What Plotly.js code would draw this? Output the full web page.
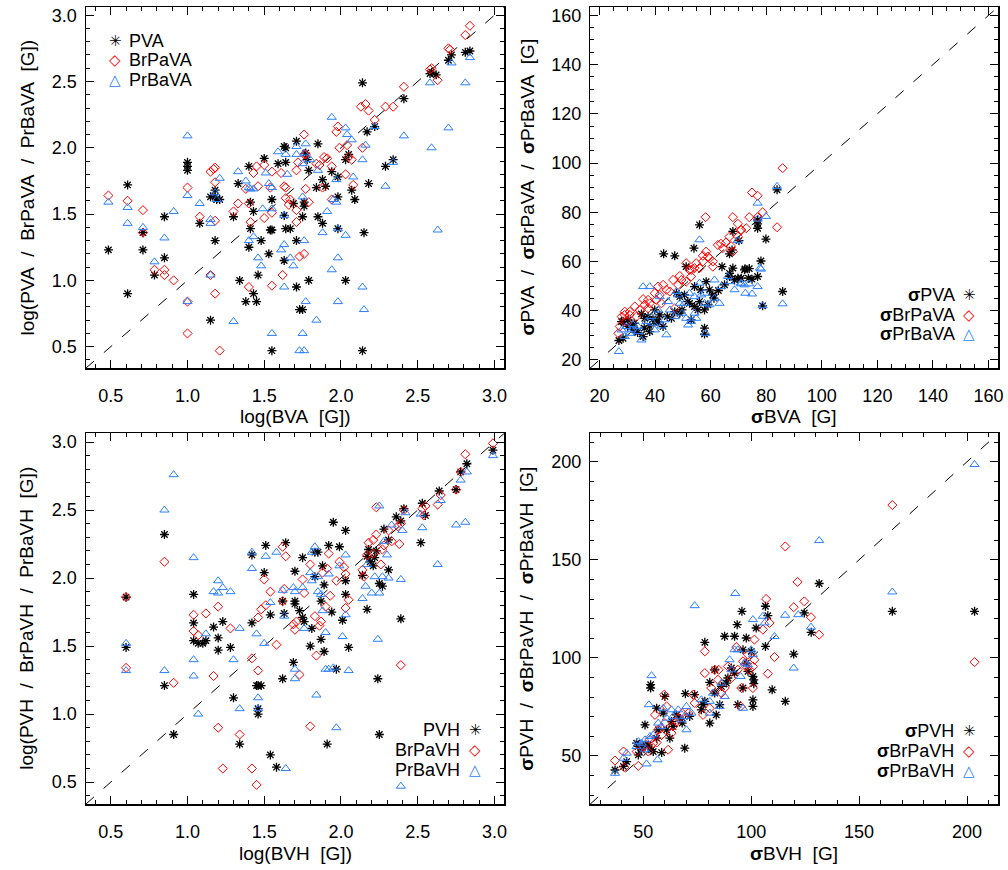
<!DOCTYPE html>
<html><head><meta charset="utf-8">
<script src="https://cdn.plot.ly/plotly-3.0.1.min.js"></script>
<style>html,body{margin:0;padding:0;background:#fff}#chart{width:1008px;height:870px}</style>
</head><body><div id="chart"></div>
<script>
// ---------------- DATA ----------------
// Panel 1: log(BVA) vs log(PVA / BrPaVA / PrBaVA)
const p1_PVA_x = [0.485,0.61,0.61,0.71,0.71,0.785,0.85,0.85,1.0,1.0,1.0,1.08,1.15,1.15,1.18,1.18,1.19,1.21,1.18,1.30,1.33,1.34,1.38,1.40,1.40,1.41,1.41,1.43,1.43,1.45,1.46,1.48,1.50,1.53,1.55,1.55,1.54,1.55,1.59,1.63,1.64,1.64,1.63,1.63,1.64,1.67,1.69,1.71,1.71,1.71,1.73,1.75,1.75,1.76,1.76,1.77,1.78,1.79,1.79,1.85,1.85,1.84,1.88,1.90,1.88,1.94,1.98,1.98,1.98,2.03,2.03,2.05,2.07,2.09,2.14,2.14,2.15,2.17,2.18,2.22,2.29,2.34,2.41,2.58,2.62,2.70,2.72,2.81,2.84,2.59];
const p1_PVA_y = [1.23,1.72,0.90,1.36,1.23,1.04,1.48,1.17,1.89,1.86,1.83,1.43,1.63,0.70,1.30,1.63,1.61,1.61,1.68,1.48,1.73,1.00,0.84,1.86,1.25,1.39,1.59,1.52,0.90,0.84,1.04,1.30,1.92,1.20,1.61,0.47,1.38,1.38,1.88,2.01,2.00,1.89,1.49,1.15,1.39,1.39,1.58,2.05,1.30,0.95,0.78,0.78,1.48,1.56,1.59,1.96,1.91,1.83,1.00,2.03,1.48,1.70,1.43,1.71,1.76,1.82,1.78,1.63,1.39,1.00,1.91,1.95,1.68,1.61,2.49,0.47,1.36,2.12,1.73,2.16,1.86,1.91,2.37,2.56,2.55,2.66,2.70,2.72,2.73,2.57];
const p1_BrPaVA_x = [0.485,0.61,0.71,0.71,0.785,0.85,0.85,0.91,1.0,1.0,1.0,1.08,1.15,1.17,1.18,1.18,1.18,1.15,1.18,1.21,1.30,1.33,1.38,1.40,1.41,1.43,1.45,1.46,1.50,1.50,1.54,1.55,1.55,1.40,1.55,1.61,1.62,1.63,1.64,1.64,1.66,1.67,1.71,1.71,1.73,1.76,1.71,1.76,1.77,1.77,1.79,1.76,1.72,1.84,1.86,1.89,1.91,1.88,1.94,1.94,1.97,1.98,1.99,2.04,2.03,2.05,2.07,2.08,2.13,2.16,2.18,2.14,2.22,2.29,2.34,2.41,2.58,2.63,2.70,2.71,2.81,2.84,2.59];
const p1_BrPaVA_y = [1.64,1.60,1.53,1.36,1.08,1.08,1.04,1.00,1.70,0.84,0.60,1.48,1.82,1.84,1.85,1.74,1.45,1.04,0.90,0.47,1.52,1.58,1.69,1.58,1.44,1.81,1.86,1.71,1.87,1.47,1.70,1.51,1.82,0.95,0.96,1.81,1.04,1.71,1.70,1.62,1.57,1.61,1.44,1.83,1.18,1.20,1.53,2.10,1.95,1.69,1.59,1.95,1.89,1.88,1.87,1.93,1.92,1.70,1.86,1.61,2.12,2.16,2.00,2.02,1.80,1.93,1.91,1.72,2.31,2.33,2.28,2.00,2.21,2.31,2.31,2.46,2.59,2.51,2.75,2.74,2.85,2.92,2.60];
const p1_PrBaVA_x = [0.485,0.61,0.61,0.71,0.85,0.785,0.91,1.0,1.0,1.0,1.08,1.15,1.15,1.15,1.18,1.21,1.19,1.30,1.33,1.38,1.40,1.41,1.43,1.40,1.43,1.46,1.48,1.49,1.51,1.53,1.55,1.55,1.55,1.59,1.61,1.63,1.63,1.63,1.64,1.65,1.67,1.69,1.71,1.71,1.73,1.76,1.75,1.76,1.75,1.75,1.77,1.77,1.80,1.84,1.85,1.88,1.91,1.94,1.94,1.97,1.97,1.98,1.98,1.98,2.03,2.04,2.07,2.03,2.08,2.14,2.14,2.15,2.16,2.22,2.29,2.34,2.41,2.58,2.59,2.63,2.70,2.72,2.81,2.84,1.76,1.95];
const p1_PrBaVA_y = [1.59,1.55,1.43,1.40,1.32,1.14,1.52,2.09,1.64,0.84,1.58,1.46,1.43,1.04,1.66,1.77,1.61,0.69,1.82,1.75,1.70,1.69,1.69,1.30,1.33,1.17,1.11,1.54,1.81,1.73,1.70,1.54,0.60,1.97,1.23,1.27,1.49,0.95,1.95,1.80,1.17,1.11,2.01,1.95,0.47,0.47,0.60,1.30,1.63,1.88,2.03,0.84,1.91,0.70,1.83,1.36,1.52,1.08,2.23,1.76,1.59,1.17,1.39,0.84,2.15,2.10,2.06,1.34,1.78,1.91,0.95,0.78,2.02,2.16,1.71,1.89,2.09,2.49,2.00,1.38,2.15,2.64,2.49,2.68,1.96,1.61];

// Panel 2: sigma BVA vs sigma PVA / BrPaVA / PrBaVA
const p2_PVA_x = [83.9,76.9,76.9,76.9,79.9,68.0,70.2,56.0,54.0,43.1,47.1,78.1,73.9,76.9,74.9,71.0,85.9,78.7,27.0,28.5,28.5,30.1,31.5,33.7,35.7,36.1,37.5,38.1,39.3,41.1,44.4,47.1,47.7,49.7,51.2,53.0,54.2,56.4,57.8,57.8,58.4,59.6,61.2,62.8,64.1,66.8,68.0,66.8,69.8,72.4,73.6,30.3,32.5,35.1,39.9,41.7,48.9,50.6,52.4,54.2,56.0,57.8,66.8,67.7,27.9,32.7,36.3,38.1,40.5,42.9,45.9,48.9,51.8,55.4,59.0,60.8,65.0,68.6,72.2];
const p2_PVA_y = [89.1,76.9,75.3,73.5,69.1,72.2,68.5,74.9,65.4,63.1,62.3,60.2,57.1,53.9,52.8,53.2,47.8,42.0,27.9,28.8,35.6,33.6,33.6,31.1,29.5,32.9,37.6,33.8,36.5,35.6,37.6,39.6,47.1,40.3,57.9,36.3,41.7,48.5,32.9,40.3,51.8,48.5,45.1,48.2,57.9,55.2,57.3,63.1,53.2,57.0,53.2,36.3,34.9,38.7,40.3,38.3,45.7,46.4,43.0,49.8,43.7,30.5,53.9,64.7,35.6,32.2,36.9,31.5,35.6,33.6,36.9,39.0,43.7,40.3,42.4,46.4,50.5,52.5,56.6];
const p2_BrPaVA_x = [85.9,74.9,76.9,78.7,76.9,83.9,68.0,69.8,71.0,73.9,58.2,26.8,28.0,29.1,30.9,33.3,35.7,36.3,38.1,39.9,40.5,41.1,42.9,45.3,46.5,47.1,48.9,51.2,51.2,52.4,54.2,56.0,57.2,58.4,59.6,60.8,62.6,63.7,65.5,67.3,66.8,68.0,70.9,29.1,30.9,34.5,37.5,42.3,48.3,53.0,60.8,57.2,27.3,29.7,32.7,37.5,41.7,44.1,49.5,53.0,54.8,59.0,64.4,69.8,72.8];
const p2_BrPaVA_y = [97.9,88.0,86.7,80.0,78.0,73.9,78.0,75.3,72.8,78.0,78.0,30.8,37.6,38.3,38.3,37.6,44.7,42.4,43.0,47.1,44.4,49.8,50.5,47.8,52.5,41.0,54.1,51.8,59.3,56.6,57.3,57.3,62.3,64.0,61.3,57.9,66.7,67.2,67.7,66.3,70.1,64.0,72.8,39.6,39.6,40.3,41.0,43.0,50.5,53.9,60.0,60.0,33.6,35.6,41.7,44.4,46.4,48.5,52.5,56.6,59.3,62.0,65.4,70.1,73.5];
const p2_PrBaVA_x = [83.9,76.9,79.9,56.0,78.1,76.9,74.9,73.9,71.0,85.9,78.7,27.0,28.0,29.7,32.1,35.1,35.7,38.1,36.9,39.3,39.9,41.7,44.1,43.5,45.3,47.1,47.7,49.7,51.2,53.0,52.4,54.2,54.8,56.0,56.6,57.8,59.6,61.4,63.2,63.8,66.8,69.8,70.9,72.5,77.8,76.9,48.9,30.9,33.9,42.3,58.2,51.9,29.1,31.5,33.9,38.7,41.1,44.7,48.3,50.6,54.2,57.8,61.4,66.2,68.6,72.2];
const p2_PrBaVA_y = [90.5,83.7,78.3,68.8,56.9,49.8,46.8,50.9,50.9,42.8,42.0,23.4,32.2,33.6,34.3,28.1,49.8,49.8,35.6,34.9,32.2,45.7,30.2,36.3,40.3,37.6,47.8,39.0,36.9,35.6,47.1,39.0,36.9,51.2,46.4,43.0,42.4,45.1,43.0,49.8,51.8,68.5,51.2,47.1,57.3,77.2,43.0,30.8,31.5,33.8,30.8,34.2,29.5,32.2,33.6,37.6,40.3,43.7,46.4,43.0,45.7,47.1,52.5,53.9,48.5,50.5];

// Panel 3: log(BVH) vs log(PVH / BrPaVH / PrBaVH)
const p3_PVH_x = [0.60,0.60,0.85,0.85,0.91,1.04,1.04,1.04,1.07,1.10,1.12,1.17,1.20,1.20,1.23,1.28,1.30,1.34,1.42,1.42,1.45,1.46,1.48,1.46,1.46,1.50,1.51,1.54,1.54,1.58,1.62,1.62,1.63,1.64,1.69,1.70,1.70,1.70,1.73,1.75,1.75,1.76,1.80,1.81,1.83,1.83,1.85,1.87,1.87,1.88,1.89,1.89,1.91,1.92,1.94,1.95,1.97,1.99,2.01,2.03,2.03,2.03,2.05,2.14,2.17,2.18,2.19,2.21,2.22,2.24,2.25,2.25,2.27,2.28,2.31,2.31,2.36,2.39,2.39,2.41,2.52,2.53,2.55,2.64,2.75,2.78,2.82,2.99,2.23,2.17];
const p3_PVH_y = [1.86,1.49,2.32,1.21,0.85,1.88,1.67,1.54,1.52,1.52,1.54,1.64,1.56,1.47,1.68,1.49,1.12,0.78,1.67,2.17,1.21,1.21,1.21,1.04,1.00,2.04,2.24,0.70,1.73,0.61,1.26,1.83,1.74,2.26,1.38,2.05,1.83,1.81,1.76,2.15,1.71,1.68,1.50,1.63,2.01,2.19,2.19,1.83,1.55,2.09,1.46,1.95,0.78,2.24,1.75,2.41,1.33,2.23,1.69,1.88,1.98,2.35,1.49,2.02,1.77,2.21,2.12,2.09,2.15,1.26,0.85,1.96,1.94,2.36,2.28,2.06,2.45,1.70,2.42,2.51,2.26,2.55,2.46,2.64,2.65,2.78,2.84,2.94,2.20,2.16];
const p3_BrPaVH_x = [0.60,0.60,0.85,0.91,1.04,1.04,1.07,1.12,1.17,1.20,1.20,1.23,1.28,1.34,1.42,1.42,1.45,1.46,1.46,1.48,1.50,1.51,1.54,1.58,1.62,1.64,1.63,1.62,1.69,1.70,1.71,1.73,1.75,1.76,1.80,1.80,1.83,1.84,1.86,1.87,1.88,1.90,1.91,1.92,1.93,1.97,1.99,2.02,2.03,2.03,2.05,2.14,2.15,2.17,2.18,2.21,2.23,2.23,2.26,2.27,2.28,2.31,2.33,2.37,2.38,2.39,2.41,2.39,2.53,2.55,2.63,2.65,2.75,2.78,2.81,2.99,2.21,2.54];
const p3_BrPaVH_y = [1.86,1.34,2.12,1.23,1.73,1.61,1.58,1.74,1.28,1.79,0.90,0.60,1.63,0.85,1.41,0.60,0.48,1.32,1.71,1.77,1.99,1.80,1.90,1.51,2.23,2.16,1.92,1.83,1.66,1.62,1.68,1.29,1.99,1.89,0.91,2.10,1.72,1.43,1.65,1.68,2.04,1.79,2.07,2.18,1.87,1.98,2.12,2.08,2.03,1.78,1.84,2.06,2.01,2.17,2.26,2.28,2.52,2.32,2.10,2.21,2.24,2.35,2.27,2.38,2.25,1.36,2.50,2.40,2.51,2.53,2.54,2.61,2.65,2.78,2.91,2.99,2.18,2.46];
const p3_PrBaVH_x = [0.60,0.60,0.85,0.85,0.91,1.04,1.04,1.04,1.07,1.12,1.17,1.20,1.20,1.23,1.28,1.30,1.34,1.34,1.42,1.42,1.45,1.46,1.46,1.50,1.51,1.54,1.58,1.62,1.63,1.64,1.69,1.70,1.70,1.70,1.75,1.76,1.80,1.81,1.81,1.83,1.84,1.85,1.85,1.87,1.88,1.90,1.90,1.92,1.92,1.95,1.97,1.99,2.01,2.03,2.03,2.05,2.14,2.16,2.17,2.20,2.22,2.24,2.25,2.25,2.27,2.30,2.31,2.33,2.39,2.39,2.40,2.42,2.52,2.53,2.63,2.65,2.75,2.78,2.81,2.82,2.99,2.28];
const p3_PrBaVH_y = [1.52,1.32,2.50,1.32,2.76,2.15,1.40,1.28,1.00,1.59,1.90,1.98,1.89,1.93,1.90,1.40,1.04,1.63,2.19,2.07,1.59,1.12,1.04,1.52,2.16,1.82,2.19,1.91,1.72,0.60,1.93,1.33,1.26,1.90,1.93,1.63,2.04,1.98,2.19,2.23,1.14,2.01,1.90,1.88,1.76,1.60,1.33,2.03,1.33,1.34,0.90,2.09,1.57,2.17,1.73,1.32,1.85,1.94,2.10,1.89,2.01,1.55,2.53,1.89,2.01,2.17,2.00,2.39,1.99,0.47,2.35,2.48,2.47,2.37,2.10,2.57,2.39,2.72,2.41,2.78,2.90,2.27];

// Panel 4: sigma BVH vs sigma PVH / BrPaVH / PrBaVH
const p4_PVH_x = [131.5,165.4,203.5,106.6,95.7,119.7,115.8,109.7,127.8,69.2,53.4,53.4,36.9,40.8,42.3,47.7,50.8,53.8,56.2,58.5,60.0,62.3,69.5,73.8,77.7,78.5,80.8,83.8,85.4,87.7,90.8,92.3,93.5,96.2,97.7,98.5,100.8,100.8,100.8,101.2,101.2,102.3,106.6,107.7,124.6,93.8,78.5,76.9,47.7,50.8,54.6,56.9,59.2,63.8,66.9,80.8,83.1,86.2,89.2,96.2,46.9,49.2,52.3,56.2,60.8,63.1,65.4,68.0,71.5,83.1,88.5,92.3,97.7,100.0];
const p4_PVH_y = [137.9,123.7,123.7,126.3,123.7,101.9,77.8,83.7,113.0,53.9,84.6,86.3,42.8,44.6,47.1,54.8,65.8,53.1,74.3,51.7,80.3,59.0,81.7,81.2,76.1,107.9,66.7,70.9,76.1,111.0,94.8,111.0,116.9,104.1,110.1,93.1,90.5,78.6,75.2,88.8,86.8,115.2,105.8,121.5,122.9,76.1,77.8,73.5,50.5,55.6,52.2,63.3,71.8,65.0,69.2,87.5,93.9,85.4,89.7,84.6,56.5,53.1,55.6,59.0,63.3,67.5,70.9,66.7,70.1,82.0,87.1,92.2,97.3,103.3];
const p4_BrPaVH_x = [165.4,115.8,121.5,203.5,131.5,127.7,106.9,124.6,119.7,36.9,40.8,41.2,47.7,55.4,59.7,60.8,63.1,56.2,61.5,52.3,54.6,58.5,65.4,68.0,73.1,77.7,78.5,78.5,80.8,83.1,84.9,86.2,87.7,90.8,93.1,95.4,96.2,97.7,99.2,100.8,101.5,101.5,105.4,108.5,107.7,110.8,95.1,89.2,100.8,46.9,50.0,53.1,56.9,60.0,63.8,66.2,70.8,73.8,81.5,84.6,93.8,98.5];
const p4_BrPaVH_y = [177.9,156.8,138.7,97.8,111.8,120.7,130.0,128.8,125.8,47.6,52.2,44.2,44.9,70.9,81.2,75.2,61.6,56.8,53.1,52.2,56.5,60.7,67.5,71.8,81.2,70.9,103.3,92.2,74.3,93.9,93.9,82.0,84.6,89.7,105.5,84.6,98.2,95.6,93.9,84.6,109.3,99.0,114.4,117.8,91.9,100.4,75.2,95.6,95.6,52.2,54.8,58.2,63.3,66.7,65.0,69.2,71.8,76.9,84.6,88.8,93.9,101.6];
const p4_PrBaVH_x = [203.5,131.5,165.4,92.6,73.8,119.7,115.7,127.7,36.9,40.8,42.3,51.5,56.6,53.8,52.6,47.7,50.8,53.1,58.5,59.2,63.8,66.2,70.0,70.0,80.8,80.8,85.4,90.0,92.3,95.1,96.2,98.5,100.8,100.8,105.4,106.2,110.8,121.8,69.2,87.7,93.8,46.9,49.2,50.8,54.6,56.9,60.8,63.1,67.7,72.3,76.9,82.3,86.2,90.8,96.9,100.0];
const p4_PrBaVH_y = [198.6,159.8,133.6,132.8,126.6,94.8,121.7,115.7,41.1,48.8,51.4,45.9,48.0,90.9,76.1,57.3,58.2,59.9,65.0,74.3,70.1,73.5,75.2,63.3,77.8,71.8,75.2,99.0,104.1,90.5,74.3,96.5,119.5,101.6,121.2,117.8,110.9,122.0,70.1,80.3,104.1,54.8,56.5,53.1,60.7,66.7,69.2,73.5,68.4,71.8,78.6,82.0,87.1,93.9,97.3,104.1];

// Axis ranges
const logRange = [0.337, 3.064];
const sig1Range = [16.6, 163.5];
const sig2Range = [25.3, 214.5];

// ---------------- STYLE / LAYOUT ----------------
const W = 1008, H = 870;
const FONT = '"Liberation Sans", Arial, sans-serif';
const BLUE = '#2a7fff', RED = '#ff0000';
const fx = px => px / W;
const fy = py => 1 - py / H;
const NB = '\u00a0';

const frames = {
  1: {l: 85.7, r: 504.3, t: 6.7, b: 368.3},
  2: {l: 590.0, r: 998.3, t: 6.7, b: 368.3},
  3: {l: 85.7, r: 504.3, t: 433.3, b: 804.3},
  4: {l: 590.0, r: 998.3, t: 433.3, b: 804.3}
};

function axis(letter, n, range, dtick, minorDtick, fmt) {
  const f = frames[n];
  const isX = letter === 'x';
  return {
    domain: isX ? [fx(f.l), fx(f.r)] : [fy(f.b), fy(f.t)],
    anchor: (isX ? 'y' : 'x') + (n === 1 ? '' : n),
    range: range, autorange: false,
    showgrid: false, zeroline: false,
    showline: true, linecolor: '#000', linewidth: 1.2, mirror: 'ticks',
    ticks: 'inside', ticklen: 8, tickwidth: 1, tickcolor: '#000',
    tick0: 0, dtick: dtick, tickformat: fmt,
    ticklabelstandoff: isX ? 11 : 4,
    minor: {dtick: minorDtick, tick0: 0, ticks: 'inside', ticklen: 4, tickwidth: 1, tickcolor: '#000', showgrid: false},
    tickfont: {family: FONT, size: 18, color: '#000'},
    fixedrange: true
  };
}

const mk = {
  P: {symbol: 'asterisk-open', size: 7.5, color: '#000', line: {color: '#000', width: 1.3}},
  B: {symbol: 'diamond-open', size: 7, color: RED, line: {color: RED, width: 1}},
  R: {symbol: 'triangle-up-open', size: 8, color: BLUE, line: {color: BLUE, width: 1}}
};

function panelTraces(n, range, sets) {
  const xa = 'x' + (n === 1 ? '' : n), ya = 'y' + (n === 1 ? '' : n);
  const t = [{x: range, y: range, xaxis: xa, yaxis: ya, mode: 'lines',
    line: {color: '#000', width: 1, dash: '11px,13px'}, hoverinfo: 'skip', showlegend: false}];
  sets.forEach(s => t.push({x: s[0], y: s[1], xaxis: xa, yaxis: ya, mode: 'markers',
    name: s[3], marker: mk[s[2]], showlegend: false}));
  return t;
}

const data = [].concat(
  panelTraces(1, logRange, [[p1_PVA_x, p1_PVA_y, 'P', 'PVA'], [p1_BrPaVA_x, p1_BrPaVA_y, 'B', 'BrPaVA'], [p1_PrBaVA_x, p1_PrBaVA_y, 'R', 'PrBaVA']]),
  panelTraces(2, sig1Range, [[p2_PVA_x, p2_PVA_y, 'P', 'σPVA'], [p2_BrPaVA_x, p2_BrPaVA_y, 'B', 'σBrPaVA'], [p2_PrBaVA_x, p2_PrBaVA_y, 'R', 'σPrBaVA']]),
  panelTraces(3, logRange, [[p3_PVH_x, p3_PVH_y, 'P', 'PVH'], [p3_BrPaVH_x, p3_BrPaVH_y, 'B', 'BrPaVH'], [p3_PrBaVH_x, p3_PrBaVH_y, 'R', 'PrBaVH']]),
  panelTraces(4, sig2Range, [[p4_PVH_x, p4_PVH_y, 'P', 'σPVH'], [p4_BrPaVH_x, p4_BrPaVH_y, 'B', 'σBrPaVH'], [p4_PrBaVH_x, p4_PrBaVH_y, 'R', 'σPrBaVH']])
);

const ann = [];
function txt(text, px, py, opts) {
  ann.push(Object.assign({text: text, x: fx(px), y: fy(py), xref: 'paper', yref: 'paper',
    showarrow: false, xanchor: 'center', yanchor: 'middle',
    font: {family: FONT, size: 19, color: '#000'}}, opts || {}));
}
const S = '<b>σ</b>';
const sp2 = NB + NB;
// axis titles
txt('log(BVA' + sp2 + '[G])', 295, 417);
txt(S + 'BVA' + sp2 + '[G]', 794, 417);
txt('log(BVH' + sp2 + '[G])', 295, 853);
txt(S + 'BVH' + sp2 + '[G]', 794, 853);
txt('log(PVA' + sp2 + '/' + sp2 + 'BrPaVA' + sp2 + '/' + sp2 + 'PrBaVA' + sp2 + '[G])', 27, 187.5, {textangle: -90});
txt(S + 'PVA' + sp2 + '/' + sp2 + S + 'BrPaVA' + sp2 + '/' + sp2 + S + 'PrBaVA' + sp2 + '[G]', 527, 187.5, {textangle: -90});
txt('log(PVH' + sp2 + '/' + sp2 + 'BrPaVH' + sp2 + '/' + sp2 + 'PrBaVH' + sp2 + '[G])', 27, 618.8, {textangle: -90});
txt(S + 'PVH' + sp2 + '/' + sp2 + S + 'BrPaVH' + sp2 + '/' + sp2 + S + 'PrBaVH' + sp2 + '[G]', 527, 618.8, {textangle: -90});

// legends (symbol glyphs + labels)
const SYM = [['✳', '#000', 15], ['◇', RED, 15], ['△', BLUE, 15]];
function legend(labels, rows, textX, symX, textLeft) {
  labels.forEach((lab, i) => {
    txt(lab, textX, rows[i], {xanchor: textLeft ? 'left' : 'right', font: {family: FONT, size: 18, color: '#000'}});
    txt(SYM[i][0], symX, rows[i], {font: {family: 'DejaVu Sans', size: SYM[i][2], color: SYM[i][1]}});
  });
}
legend(['PVA', 'BrPaVA', 'PrBaVA'], [40.7, 60, 79.5], 126.7, 115, true);
legend([S + 'PVA', S + 'BrPaVA', S + 'PrBaVA'], [295, 315, 334], 956.7, 969.3, false);
legend(['PVH', 'BrPaVH', 'PrBaVH'], [730, 750, 770], 461.7, 475, false);
legend([S + 'PVH', S + 'BrPaVH', S + 'PrBaVH'], [731, 750.7, 770.7], 956, 969.3, false);

const layout = {
  width: W, height: H,
  margin: {l: 0, r: 0, t: 0, b: 0},
  paper_bgcolor: '#fff', plot_bgcolor: '#fff',
  showlegend: false,
  font: {family: FONT, size: 18, color: '#000'},
  xaxis: axis('x', 1, logRange, 0.5, 0.1, '.1f'),
  yaxis: axis('y', 1, logRange, 0.5, 0.1, '.1f'),
  xaxis2: axis('x', 2, sig1Range, 20, 5, 'd'),
  yaxis2: axis('y', 2, sig1Range, 20, 5, 'd'),
  xaxis3: axis('x', 3, logRange, 0.5, 0.1, '.1f'),
  yaxis3: axis('y', 3, logRange, 0.5, 0.1, '.1f'),
  xaxis4: axis('x', 4, sig2Range, 50, 10, 'd'),
  yaxis4: axis('y', 4, sig2Range, 50, 10, 'd'),
  annotations: ann
};

Plotly.newPlot('chart', data, layout, {staticPlot: true, displayModeBar: false});
</script>
</body></html>
